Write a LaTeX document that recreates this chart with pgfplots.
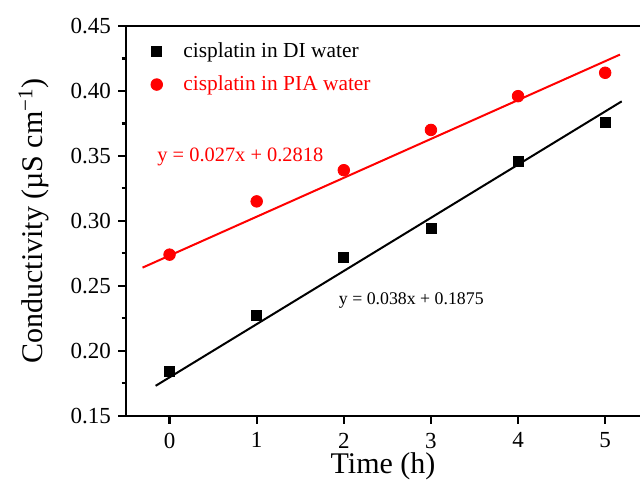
\documentclass[border=0pt]{standalone}
\usepackage{fontspec}
\setmainfont{Liberation Serif}
\usepackage{pgfplots}
\pgfplotsset{compat=1.18}

\pgfplotstableread{
t   g
0   0.184
1   0.227
2   0.272
3   0.294
4   0.346
5   0.376
}\diwater
\pgfplotstableread{
t   g
0   0.274
1   0.315
2   0.339
3   0.370
4   0.396
5   0.414
}\piawater

\begin{document}
\begin{tikzpicture}
\path[use as bounding box] (-63pt,-36.65pt) rectangle (257pt,207.85pt);
\begin{axis}[
  at={(0,0)}, anchor=south west,
  scale only axis,
  width=257pt, height=194.85pt,
  xmin=-0.5, xmax=5.4,
  ymin=0.15, ymax=0.45,
  axis x line*=box, axis y line*=left,
  axis line style={line width=1.1pt},
  xtick={0,1,2,3,4,5},
  ytick={0.15,0.20,0.25,0.30,0.35,0.40,0.45},
  minor y tick num=1,
  tick align=outside,
  xtick pos=bottom, ytick pos=left,
  major tick length=4pt, minor tick length=2.2pt,
  every tick/.style={line width=1.1pt, black},
  /pgf/number format/assume math mode=true,
  /pgf/number format/.cd, fixed, fixed zerofill, precision=2, /pgfplots/.cd,
  xticklabel={\pgfmathprintnumber[precision=0]{\tick}},
  ticklabel style={font=\fontsize{11.5}{13}\selectfont},
  xticklabel style={yshift=-1pt},
  xlabel={Time (h)},
  ylabel={Conductivity (µS cm\textsuperscript{\textminus 1})},
  label style={font=\fontsize{15}{17}\selectfont},
  xlabel style={at={(axis description cs:0.5,-0.13)}, anchor=center},
  ylabel style={at={(axis description cs:-0.179,0.5)}, anchor=center},
  legend style={at={(axis description cs:0.047,0.958)}, anchor=north west,
    draw=none, fill=none, font=\fontsize{10.7}{12}\selectfont,
    row sep=7.5pt, column sep=0pt, inner sep=0pt,
    nodes={inner sep=0pt}},
  legend cell align=left,
  legend image code/.code={%
    \path[draw opacity=0, fill opacity=0] (0pt,0pt) -- (16pt,0pt);
    \draw[#1] plot coordinates {(2.9pt,0pt)};},
]
% linear fits
\addplot[red, line width=1pt, forget plot] coordinates {(-0.31,0.264) (5.17,0.428)};
\addplot[black, line width=1pt, forget plot] coordinates {(-0.16,0.173) (5.19,0.392)};
% measurements
\addplot[only marks, mark=square*, mark size=2.5pt, black] table[x=t, y=g] {\diwater};
\addlegendentry{cisplatin in DI water}
\addplot[only marks, mark=*, mark size=2.9pt, red] table[x=t, y=g] {\piawater};
\addlegendentry{\textcolor{red}{cisplatin in PIA water}}
\node[anchor=west, inner sep=0pt, red, font=\fontsize{10.2}{11}\selectfont] at (axis cs:-0.144,0.3492) {y = 0.027x + 0.2818};
\node[anchor=west, inner sep=0pt, black, font=\fontsize{8.9}{10}\selectfont] at (axis cs:1.94,0.239) {y = 0.038x + 0.1875};
\end{axis}
\end{tikzpicture}
\end{document}
